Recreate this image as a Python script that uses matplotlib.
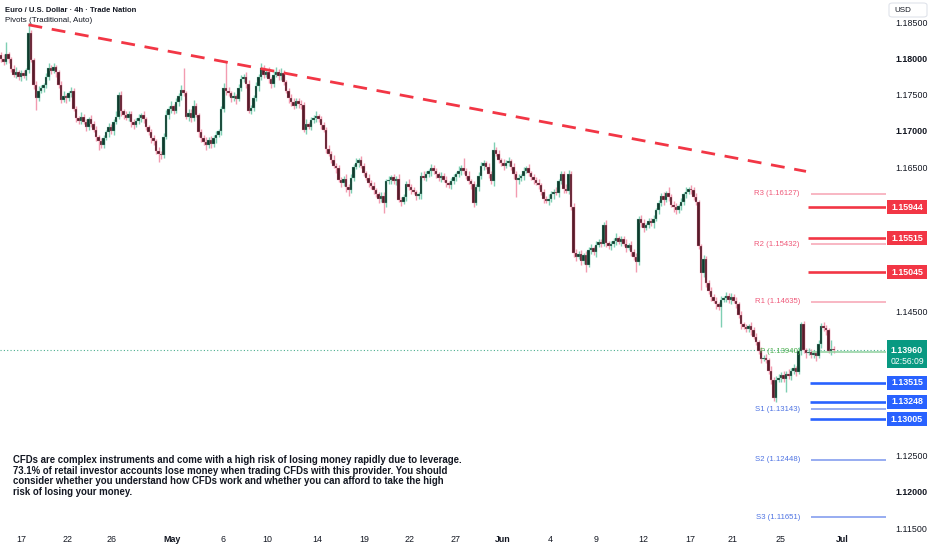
import matplotlib
matplotlib.use("Agg")
import matplotlib.pyplot as plt
from matplotlib.patches import Rectangle, FancyBboxPatch
from matplotlib.transforms import blended_transform_factory

# ---------------- data ----------------
first_open = 1.1805
closes = [
    1.1800, 1.1796, 1.1806, 1.1800, 1.1786, 1.1778, 1.1782, 1.1775, 1.1780, 1.1776,
    1.1784, 1.1836, 1.1798, 1.1764, 1.1746, 1.1756, 1.1760, 1.1763, 1.1775, 1.1787,
    1.1783, 1.1788, 1.1781, 1.1764, 1.1743, 1.1748, 1.1745, 1.1752, 1.1755, 1.1730,
    1.1718, 1.1714, 1.1720, 1.1712, 1.1706, 1.1716, 1.1710, 1.1702, 1.1692, 1.1686,
    1.1681, 1.1690, 1.1698, 1.1705, 1.1700, 1.1712, 1.1720, 1.1750, 1.1727, 1.1722,
    1.1718, 1.1724, 1.1712, 1.1708, 1.1714, 1.1718, 1.1722, 1.1716, 1.1705, 1.1698,
    1.1690, 1.1686, 1.1672, 1.1668, 1.1666, 1.1692, 1.1722, 1.1730, 1.1735, 1.1728,
    1.1740, 1.1748, 1.1757, 1.1752, 1.1720, 1.1725, 1.1718, 1.1735, 1.1722, 1.1698,
    1.1690, 1.1685, 1.1680, 1.1688, 1.1682, 1.1690, 1.1694, 1.1700, 1.1730, 1.1760,
    1.1756, 1.1752, 1.1745, 1.1748, 1.1744, 1.1760, 1.1772, 1.1775, 1.1765, 1.1728,
    1.1732, 1.1745, 1.1762, 1.1775, 1.1787, 1.1778, 1.1782, 1.1772, 1.1765, 1.1778,
    1.1782, 1.1776, 1.1780, 1.1768, 1.1755, 1.1745, 1.1740, 1.1735, 1.1742, 1.1738,
    1.1736, 1.1702, 1.1710, 1.1706, 1.1715, 1.1718, 1.1721, 1.1716, 1.1708, 1.1702,
    1.1675, 1.1668, 1.1660, 1.1652, 1.1648, 1.1632, 1.1628, 1.1634, 1.1622, 1.1618,
    1.1635, 1.1650, 1.1656, 1.1660, 1.1652, 1.1642, 1.1635, 1.1628, 1.1624, 1.1618,
    1.1612, 1.1606, 1.1610, 1.1600, 1.1630, 1.1632, 1.1636, 1.1630, 1.1634, 1.1605,
    1.1602, 1.1608, 1.1627, 1.1622, 1.1618, 1.1615, 1.1610, 1.1612, 1.1638, 1.1635,
    1.1640, 1.1644, 1.1648, 1.1644, 1.1640, 1.1635, 1.1638, 1.1632, 1.1628, 1.1625,
    1.1630, 1.1636, 1.1640, 1.1645, 1.1648, 1.1644, 1.1638, 1.1630, 1.1626, 1.1600,
    1.1622, 1.1637, 1.1652, 1.1656, 1.1650, 1.1640, 1.1630, 1.1674, 1.1668, 1.1660,
    1.1656, 1.1652, 1.1656, 1.1658, 1.1650, 1.1640, 1.1632, 1.1635, 1.1638, 1.1645,
    1.1648, 1.1642, 1.1636, 1.1632, 1.1628, 1.1625, 1.1615, 1.1606, 1.1603, 1.1606,
    1.1612, 1.1616, 1.1614, 1.1630, 1.1640, 1.1620, 1.1617, 1.1640, 1.1595, 1.1531,
    1.1525, 1.1530, 1.1520, 1.1528, 1.1515, 1.1535, 1.1538, 1.1532, 1.1542, 1.1546,
    1.1544, 1.1570, 1.1545, 1.1540, 1.1543, 1.1548, 1.1552, 1.1546, 1.1550, 1.1544,
    1.1538, 1.1542, 1.1532, 1.1525, 1.1518, 1.1578, 1.1572, 1.1566, 1.1570, 1.1575,
    1.1572, 1.1578, 1.1590, 1.1600, 1.1610, 1.1604, 1.1614, 1.1608, 1.1598, 1.1594,
    1.1590, 1.1596, 1.1602, 1.1612, 1.1616, 1.1620, 1.1618, 1.1608, 1.1602, 1.1540,
    1.1503, 1.1522, 1.1490, 1.1478, 1.1470, 1.1465, 1.1460, 1.1456, 1.1466, 1.1468,
    1.1472, 1.1466, 1.1470, 1.1465, 1.1460, 1.1445, 1.1432, 1.1428, 1.1426, 1.1430,
    1.1424, 1.1415, 1.1408, 1.1395, 1.1384, 1.1386, 1.1383, 1.1368, 1.1355, 1.1330,
    1.1355, 1.1358, 1.1362, 1.1356, 1.1364, 1.1360, 1.1368, 1.1372, 1.1366, 1.1395,
    1.1432, 1.1396, 1.1392, 1.1394, 1.1390, 1.1392, 1.1388, 1.1405, 1.1430, 1.1427,
    1.1424, 1.1395, 1.1398, 1.1396,
]
# upper / lower wick lengths in pips
hi_wick = [
    5, 6, 17, 4, 3, 5, 6, 3, 4, 5,
    3, 14, 4, 3, 5, 6, 4, 3, 5, 7,
    4, 6, 3, 4, 5, 7, 3, 4, 6, 5,
    4, 3, 6, 4, 5, 3, 6, 4, 5, 3,
    4, 5, 3, 6, 4, 5, 7, 4, 5, 3,
    6, 4, 3, 5, 4, 6, 3, 5, 4, 3,
    5, 4, 3, 6, 4, 5, 7, 4, 6, 3,
    5, 4, 6, 30, 4, 5, 6, 8, 4, 3,
    5, 4, 6, 3, 5, 4, 6, 3, 5, 7,
    36, 5, 4, 6, 3, 5, 6, 4, 7, 5,
    4, 5, 6, 4, 7, 5, 4, 6, 3, 5,
    6, 4, 7, 5, 3, 4, 6, 5, 4, 3,
    5, 4, 6, 3, 5, 4, 6, 3, 5, 4,
    3, 5, 4, 6, 3, 5, 4, 3, 6, 4,
    5, 4, 6, 3, 5, 4, 3, 6, 4, 5,
    3, 4, 6, 5, 4, 6, 3, 5, 4, 6,
    4, 5, 3, 6, 4, 5, 3, 4, 5, 6,
    4, 3, 6, 5, 4, 3, 5, 4, 6, 3,
    5, 4, 3, 6, 5, 15, 4, 6, 3, 5,
    4, 6, 5, 4, 3, 6, 5, 11, 4, 6,
    3, 5, 4, 6, 3, 5, 4, 6, 3, 5,
    4, 6, 3, 5, 4, 6, 3, 5, 4, 6,
    5, 4, 6, 3, 5, 4, 6, 6, 4, 5,
    6, 4, 5, 3, 6, 4, 5, 3, 6, 4,
    5, 4, 6, 3, 5, 4, 6, 3, 5, 4,
    6, 3, 5, 4, 6, 4, 5, 6, 3, 5,
    4, 6, 3, 5, 4, 6, 3, 9, 4, 5,
    6, 3, 5, 4, 6, 3, 5, 4, 6, 3,
    4, 6, 5, 3, 6, 4, 5, 3, 6, 4,
    5, 3, 6, 4, 5, 3, 6, 4, 5, 3,
    6, 4, 5, 3, 6, 4, 5, 3, 6, 4,
    5, 6, 4, 5, 3, 6, 4, 5, 3, 6,
    4, 5, 3, 6, 4, 5, 3, 6, 4, 5,
    4, 3, 13, 4,
]
lo_wick = [
    4, 5, 3, 6, 4, 3, 5, 4, 6, 3,
    5, 4, 3, 6, 17, 5, 4, 6, 3, 5,
    4, 3, 6, 5, 4, 3, 6, 4, 5, 3,
    6, 4, 5, 3, 6, 4, 5, 3, 6, 12,
    4, 5, 3, 6, 4, 5, 3, 4, 6, 5,
    3, 4, 6, 5, 3, 4, 6, 5, 4, 3,
    6, 5, 4, 11, 5, 4, 3, 6, 5, 4,
    3, 6, 5, 4, 3, 6, 5, 4, 3, 6,
    5, 4, 6, 3, 5, 4, 6, 3, 5, 4,
    6, 3, 5, 4, 6, 3, 5, 4, 6, 3,
    5, 4, 3, 6, 5, 4, 3, 6, 5, 4,
    3, 6, 5, 4, 3, 6, 5, 4, 3, 6,
    5, 4, 6, 3, 5, 4, 6, 3, 5, 4,
    6, 3, 5, 4, 6, 3, 5, 4, 6, 8,
    4, 5, 3, 6, 4, 5, 3, 6, 4, 5,
    3, 6, 4, 13, 5, 4, 6, 3, 5, 4,
    6, 3, 5, 4, 6, 3, 5, 4, 6, 3,
    5, 4, 6, 3, 5, 4, 6, 3, 5, 4,
    6, 3, 5, 4, 6, 3, 5, 4, 6, 5,
    3, 5, 4, 6, 3, 5, 4, 6, 3, 5,
    4, 6, 3, 5, 4, 6, 23, 5, 4, 6,
    3, 5, 4, 6, 3, 5, 4, 6, 3, 5,
    4, 6, 3, 5, 4, 6, 3, 5, 4, 6,
    5, 3, 6, 4, 11, 3, 5, 4, 6, 3,
    5, 4, 6, 3, 5, 4, 6, 3, 5, 4,
    6, 3, 5, 4, 13, 4, 5, 6, 3, 5,
    4, 6, 3, 5, 4, 6, 3, 5, 4, 6,
    5, 3, 6, 4, 5, 3, 6, 4, 5, 3,
    23, 5, 6, 4, 5, 3, 6, 4, 27, 3,
    5, 4, 6, 3, 5, 4, 6, 3, 5, 4,
    6, 3, 5, 4, 6, 3, 5, 4, 6, 4,
    5, 3, 6, 4, 17, 3, 5, 4, 6, 3,
    5, 4, 6, 3, 5, 4, 6, 3, 5, 4,
    6, 3, 5, 4,
]
PIP = 0.0001

date_labels = ["17", "22", "26", "May", "6", "10", "14", "19", "22", "27",
               "Jun", "4", "9", "12", "17", "21", "25", "Jul"]
date_idx = [8, 26.8, 44.4, 68.4, 88.8, 106.4, 126.4, 145.2, 163.6, 182,
            200.8, 219.6, 238, 256.8, 275.6, 292.8, 312, 336.4]
month_labels = ["May", "Jun", "Jul"]

price_ticks = [1.185, 1.180, 1.175, 1.170, 1.165, 1.145, 1.125, 1.120, 1.115]
bold_ticks = [1.180, 1.170, 1.120]

pivot_names = ["R3", "R2", "R1", "P", "S1", "S2", "S3"]
pivot_values = [1.16127, 1.15432, 1.14635, 1.13940, 1.13143, 1.12448, 1.11651]

red_levels = [1.15944, 1.15515, 1.15045]
blue_levels = [1.13515, 1.13248, 1.13005]
last_price = 1.13960
countdown = "02:56:09"

trend_idx = [11, 322]
trend_price = [1.1847, 1.1644]

title = "Euro / U.S. Dollar \u00b7 4h \u00b7 Trade Nation"
subtitle = "Pivots (Traditional, Auto)"
disclaimer = ("CFDs are complex instruments and come with a high risk of losing money rapidly due to leverage.\n"
              "73.1% of retail investor accounts lose money when trading CFDs with this provider. You should\n"
              "consider whether you understand how CFDs work and whether you can afford to take the high\n"
              "risk of losing your money.")

# ---------------- figure ----------------
plt.rcParams['font.family'] = ['Liberation Sans', 'DejaVu Sans']
W, H = 932, 550
fig = plt.figure(figsize=(W / 100, H / 100), dpi=100)
fig.patch.set_facecolor('white')
ax = fig.add_axes([0, 22 / H, 886 / W, 528 / H])
ax.set_facecolor('white')
for s in ax.spines.values():
    s.set_visible(False)

PX = 0.005 / 36.15  # price per pixel
ax.set_ylim(1.185 - (528 - 22.7) * PX, 1.185 + 22.7 * PX)
ax.set_xlim(-0.4, (886 - 1) / 2.5)

n = len(closes)
xs = list(range(n))
opens = [first_open] + closes[:-1]
highs = [max(o, c) + h * PIP for o, c, h in zip(opens, closes, hi_wick)]
lows = [min(o, c) - l * PIP for o, c, l in zip(opens, closes, lo_wick)]
up = [c >= o for o, c in zip(opens, closes)]

UP_BODY, DN_BODY = '#0f3a2d', '#581a29'
UP_WICK, DN_WICK = '#7fcfb3', '#f29bb0'

ax.vlines(xs, lows, highs, colors=[UP_WICK if u else DN_WICK for u in up],
          linewidth=1.0, zorder=2)
bottoms = [min(o, c) for o, c in zip(opens, closes)]
heights = [max(abs(c - o), 0.00005) for o, c in zip(opens, closes)]
ax.bar(xs, heights, bottom=bottoms, width=0.84,
       color=[UP_BODY if u else DN_BODY for u in up],
       edgecolor=[UP_WICK if u else DN_WICK for u in up], linewidth=0.2, zorder=3)

# trend line
ax.plot(trend_idx, trend_price, color='#f23645', lw=2.0, dashes=(5, 3.5), zorder=4,
        solid_capstyle='butt', dash_capstyle='butt')

# current price dotted line
ax.axhline(last_price, color='#4cae8f', lw=0.8, ls=(0, (1, 2)), zorder=1)

# pivot levels
xr = ax.get_xlim()[1]
piv_start = (811 - 1) / 2.5
lab_end = (800 - 1) / 2.5
for name, v in zip(pivot_names, pivot_values):
    if name.startswith('R'):
        lc, tc = '#f7a3b3', '#ef5a7a'
    elif name.startswith('S'):
        lc, tc = '#7b96ee', '#4f74e3'
    else:
        lc, tc = '#8fd19e', '#4caf50'
    ax.plot([piv_start, xr], [v, v], color=lc, lw=1.1, zorder=2, solid_capstyle='butt')
    ax.text(lab_end, v, f"{name} ({v:.5f})", color=tc, fontsize=5.6, ha='right',
            va='center', zorder=5)

# horizontal rays
for v in red_levels:
    ax.plot([(808 - 1) / 2.5, xr], [v, v], color='#f23645', lw=1.9, zorder=4,
            solid_capstyle='butt')
for v in blue_levels:
    ax.plot([(810 - 1) / 2.5, xr], [v, v], color='#2962ff', lw=1.9, zorder=4,
            solid_capstyle='butt')

# axes ticks
ax.set_xticks(date_idx)
ax.set_xticklabels(date_labels)
for lbl in ax.get_xticklabels():
    lbl.set_fontsize(6.4)
    lbl.set_color('#131722')
    if lbl.get_text() in month_labels:
        lbl.set_fontweight('bold')
ax.tick_params(axis='x', length=0, pad=5)

ax.yaxis.tick_right()
ax.set_yticks(price_ticks)
ax.set_yticklabels([f"{t:.5f}" for t in price_ticks])
for lbl, t in zip(ax.get_yticklabels(), price_ticks):
    lbl.set_fontsize(6.4)
    lbl.set_color('#131722')
    if t in bold_ticks:
        lbl.set_fontweight('bold')
ax.tick_params(axis='y', length=0, pad=6.5)

# price-scale label boxes
tr = blended_transform_factory(fig.transFigure, ax.transData)
bx0, bw = 887 / W, 40 / W
half = 7 * PX
for v in red_levels:
    fig.patches.append(Rectangle((bx0, v - half), bw, 2 * half, transform=tr,
                                 facecolor='#f23645', edgecolor='none', zorder=6))
    fig.text(bx0 + bw / 2, v, f"{v:.5f}", transform=tr, color='white', fontsize=6.4,
             fontweight='bold', ha='center', va='center', zorder=7)
for v in blue_levels:
    fig.patches.append(Rectangle((bx0, v - half), bw, 2 * half, transform=tr,
                                 facecolor='#2962ff', edgecolor='none', zorder=6))
    fig.text(bx0 + bw / 2, v, f"{v:.5f}", transform=tr, color='white', fontsize=6.4,
             fontweight='bold', ha='center', va='center', zorder=7)
fig.patches.append(Rectangle((bx0, last_price - 18 * PX), bw, 28 * PX, transform=tr,
                             facecolor='#089981', edgecolor='none', zorder=6))
fig.text(bx0 + bw / 2, last_price, f"{last_price:.5f}", transform=tr, color='white',
         fontsize=6.4, fontweight='bold', ha='center', va='center', zorder=7)
fig.text(bx0 + bw / 2, last_price - 11.5 * PX, countdown, transform=tr, color='white',
         fontsize=6.2, ha='center', va='center', zorder=7)

# USD box
fig.patches.append(FancyBboxPatch((889 / W, 1 - 17 / H), 38 / W, 14 / H,
                                  boxstyle='round,pad=0,rounding_size=0.004',
                                  transform=fig.transFigure, facecolor='white',
                                  edgecolor='#e0e3eb', lw=0.8, zorder=8))
fig.text(894 / W, 1 - 10.5 / H, "USD", fontsize=5.8, color='#131722', va='center',
         ha='left', zorder=9)

# titles
fig.text(5 / W, 1 - 10 / H, title, fontsize=5.5, fontweight='bold', color='#131722',
         va='center', ha='left')
fig.text(5 / W, 1 - 21 / H, subtitle, fontsize=5.8, color='#131722',
         va='center', ha='left')

# disclaimer
fig.text(13 / W, 1 - 455 / H, disclaimer, fontsize=6.95, fontweight='bold',
         color='#131722', va='top', ha='left', linespacing=1.08)

fig.savefig('out.png', dpi=100, facecolor='white')
